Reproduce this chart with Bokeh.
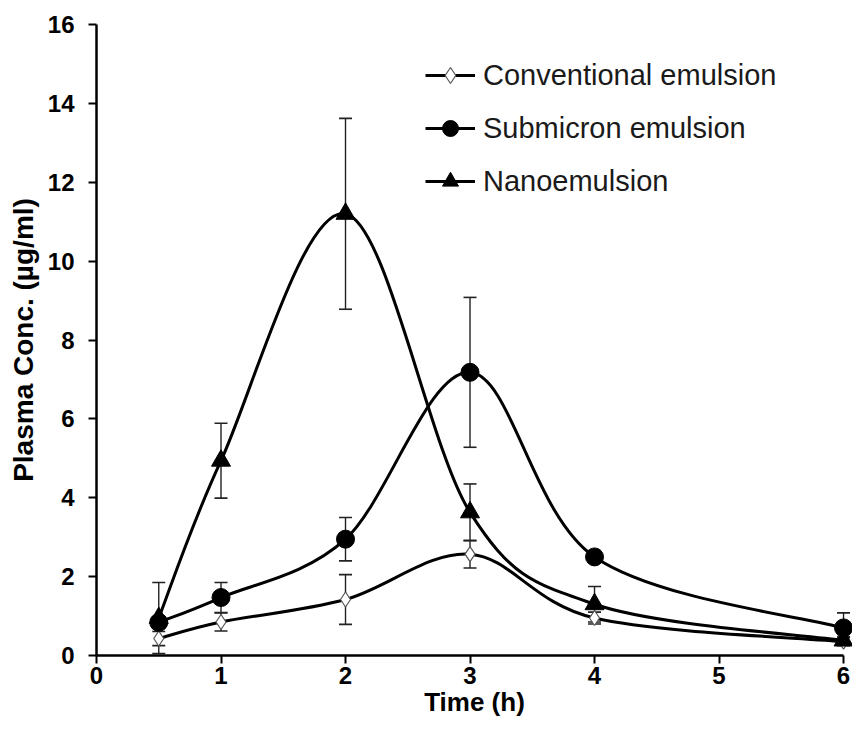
from bokeh.plotting import figure
from bokeh.models import (Range1d, ColumnDataSource, Whisker, TeeHead, Legend,
                          LegendItem, FixedTicker)
from bokeh.embed import file_html
from bokeh.resources import INLINE

# ---- data ----
time = [0.5, 1, 2, 3, 4, 6]
conv = [0.43, 0.85, 1.42, 2.57, 0.95, 0.35]
conv_sd = [0.18, 0.23, 0.63, 0.35, 0.15, 0.10]
sub = [0.84, 1.47, 2.95, 7.18, 2.50, 0.70]
sub_sd = [0.12, 0.38, 0.55, 1.90, 0.10, 0.38]
nano = [0.95, 4.94, 11.20, 3.63, 1.30, 0.38]
nano_sd = [0.90, 0.95, 2.42, 0.72, 0.45, 0.10]

x_ticks = [0, 1, 2, 3, 4, 5, 6]
y_ticks = [0, 2, 4, 6, 8, 10, 12, 14, 16]
labels = ["Conventional emulsion", "Submicron emulsion", "Nanoemulsion"]

FONT = "Liberation Sans"


def smooth_segments(xs, ys):
    """Catmull-Rom style Bezier control points (spreadsheet 'smoothed line')."""
    n = len(xs)
    d = dict(x0=[], y0=[], x1=[], y1=[], cx0=[], cy0=[], cx1=[], cy1=[])
    for i in range(n - 1):
        p0 = (xs[max(i - 1, 0)], ys[max(i - 1, 0)])
        p1 = (xs[i], ys[i])
        p2 = (xs[i + 1], ys[i + 1])
        p3 = (xs[min(i + 2, n - 1)], ys[min(i + 2, n - 1)])
        d["x0"].append(p1[0]); d["y0"].append(p1[1])
        d["x1"].append(p2[0]); d["y1"].append(p2[1])
        d["cx0"].append(p1[0] + (p2[0] - p0[0]) / 6.0)
        d["cy0"].append(p1[1] + (p2[1] - p0[1]) / 6.0)
        d["cx1"].append(p2[0] - (p3[0] - p1[0]) / 6.0)
        d["cy1"].append(p2[1] - (p3[1] - p1[1]) / 6.0)
    return ColumnDataSource(d)


p = figure(width=852, height=738, output_backend="svg", toolbar_location=None,
           x_range=Range1d(0, 6.072), y_range=Range1d(0, 16),
           min_border_left=96, min_border_right=0, min_border_top=24,
           min_border_bottom=83)
p.outline_line_color = None
p.xgrid.visible = False
p.ygrid.visible = False
p.background_fill_color = "white"
p.border_fill_color = "white"

for ax in (p.xaxis[0], p.yaxis[0]):
    ax.axis_line_width = 2.5
    ax.axis_line_color = "black"
    ax.major_tick_line_width = 2
    ax.major_tick_line_color = "black"
    ax.major_tick_in = 0
    ax.major_tick_out = 8
    ax.minor_tick_line_color = None
    ax.major_label_text_font = FONT
    ax.major_label_text_font_style = "bold"
    ax.major_label_text_font_size = "24px"
    ax.major_label_text_color = "black"
    ax.axis_label_text_font = FONT
    ax.axis_label_text_font_style = "bold"
    ax.axis_label_text_color = "black"

p.xaxis[0].ticker = FixedTicker(ticks=x_ticks)
p.xaxis[0].bounds = (0, 6)
p.xaxis[0].major_label_standoff = 3
p.xaxis[0].axis_label = "Time (h)"
p.xaxis[0].axis_label_text_font_size = "26px"
p.xaxis[0].axis_label_standoff = 0

p.yaxis[0].ticker = FixedTicker(ticks=y_ticks)
p.yaxis[0].bounds = (0, 16)
p.yaxis[0].major_label_standoff = 14
p.yaxis[0].axis_label = "Plasma Conc. (µg/ml)"
p.yaxis[0].axis_label_text_font_size = "28px"
p.yaxis[0].axis_label_standoff = 6

series = [
    (conv, conv_sd, dict(marker="diamond", size=15, fill_color="white",
                         line_color="#555555", line_width=1.2)),
    (sub, sub_sd, dict(marker="circle", size=18, fill_color="black",
                       line_color="black", line_width=1)),
    (nano, nano_sd, dict(marker="triangle", size=19, fill_color="black",
                         line_color="black", line_width=1)),
]

items = []
for (vals, sd, mk), lab in zip(series, labels):
    wsrc = ColumnDataSource(dict(base=time,
                                 upper=[v + s for v, s in zip(vals, sd)],
                                 lower=[v - s for v, s in zip(vals, sd)]))
    w = Whisker(base="base", upper="upper", lower="lower", source=wsrc,
                line_color="#222222", line_width=1.4,
                upper_head=TeeHead(size=13, line_width=1.6, line_color="#222222"),
                lower_head=TeeHead(size=13, line_width=1.6, line_color="#222222"))
    p.add_layout(w)
    bz = p.bezier(x0="x0", y0="y0", x1="x1", y1="y1", cx0="cx0", cy0="cy0",
                  cx1="cx1", cy1="cy1", source=smooth_segments(time, vals),
                  line_color="black", line_width=3)
    sc = p.scatter(time, vals, **mk)
    items.append(LegendItem(label=lab, renderers=[bz, sc]))

legend = Legend(items=items, location=(329, 454), orientation="vertical",
                glyph_width=50, glyph_height=40, label_height=40, spacing=13,
                label_standoff=8, padding=0, margin=0,
                border_line_color=None, background_fill_alpha=0,
                label_text_font=FONT, label_text_font_size="29px",
                label_text_color="#1a1a1a")
p.add_layout(legend)

open("out.html", "w").write(file_html(p, INLINE))
